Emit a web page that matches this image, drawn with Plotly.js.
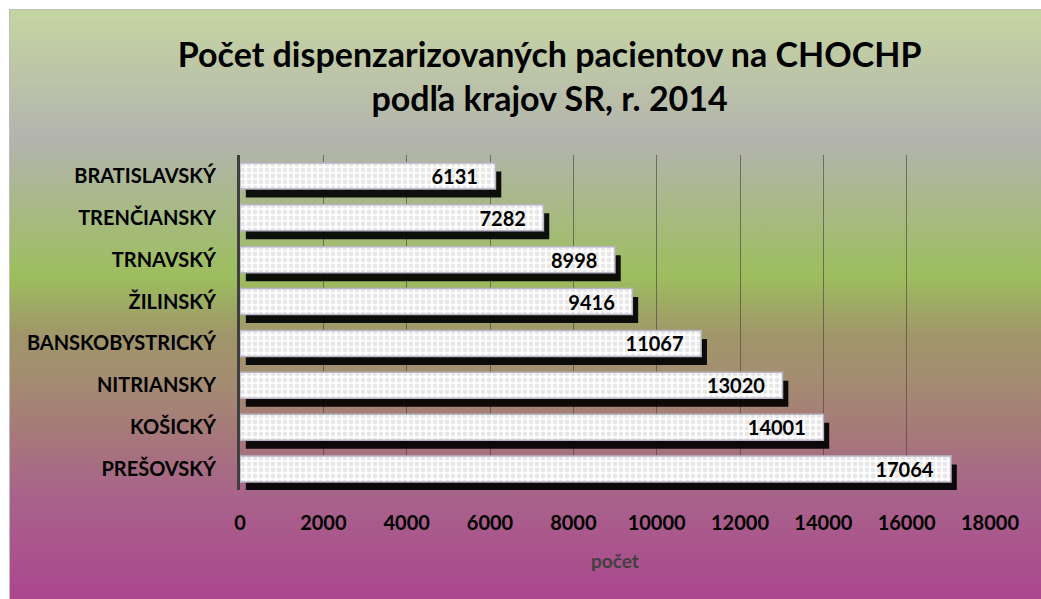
<!DOCTYPE html>
<html><head><meta charset="utf-8">
<script src="https://cdn.plot.ly/plotly-3.0.1.min.js"></script>
<style>
html,body{margin:0;padding:0;background:#fff;width:1041px;height:599px;overflow:hidden;}
#bg{position:absolute;left:9px;top:9px;width:1032px;height:590px;border-left:1px solid #bdbdbd;border-top:1px solid #bdbdbd;
background:linear-gradient(to bottom,#c5d5a1 0%,#b3b4ae 22%,#9dbe5e 45%,#a0966a 55%,#a48c71 63%,#a6787a 72%,#a8648a 82%,#ab468e 100%);}
#chart{position:absolute;left:0;top:0;width:1041px;height:599px;}
</style></head>
<body><div id="bg"></div><div id="chart"></div>
<script>
const regions = ["BRATISLAVSKÝ","TRENČIANSKY","TRNAVSKÝ","ŽILINSKÝ","BANSKOBYSTRICKÝ","NITRIANSKY","KOŠICKÝ","PREŠOVSKÝ"];
const patients = [6131,7282,8998,9416,11067,13020,14001,17064];
const xTickVals = [0,2000,4000,6000,8000,10000,12000,14000,16000,18000];
const xTickText = ["0","2000","4000","6000","8000","10000","12000","14000","16000","18000"];
const titleText = "Počet dispenzarizovaných pacientov na CHOCHP<br>podľa krajov SR, r. 2014";
const xTitle = "počet";

const FONT = "Lato, 'Open Sans', sans-serif";
const pad = "\u00a0\u00a0\u00a0";

const shadow = {
  type:'bar', orientation:'h', x:patients, y:regions, xaxis:'x', yaxis:'y',
  marker:{color:'rgba(0,0,0,0.92)', line:{width:0}}, hoverinfo:'skip', showlegend:false
};
const bars = {
  type:'bar', orientation:'h', x:patients, y:regions, xaxis:'x2', yaxis:'y2',
  marker:{color:'#ffffff', line:{color:'#b9b3c6', width:1.5},
    pattern:{shape:'.', fillmode:'overlay', bgcolor:'#ffffff', fgcolor:'#cfcfcf', size:6, solidity:0.5}},
  text:patients.map(v=>String(v)+pad), textposition:'inside', insidetextanchor:'end',
  textfont:{family:FONT, size:20, color:'#000', weight:700}, constraintext:'none',
  hoverinfo:'skip', showlegend:false, cliponaxis:false
};

const n = regions.length;
const shiftY = 8.5/41.9;
const layout = {
  width:1041, height:599,
  paper_bgcolor:'rgba(0,0,0,0)', plot_bgcolor:'rgba(0,0,0,0)',
  margin:{l:240, r:51, t:155, b:109},
  bargap:0.38,
  showlegend:false,
  title:{text:titleText, font:{family:FONT, size:34, color:'#000', weight:700},
    x:0.528, xanchor:'center', y:1-67/599, yanchor:'top', yref:'container'},
  xaxis:{range:[-140, 18000-140], visible:false, fixedrange:true},
  yaxis:{type:'category', categoryarray:regions, range:[n-0.5-shiftY, -0.5-shiftY], visible:false, fixedrange:true},
  xaxis2:{overlaying:'x', anchor:'y2', range:[0,18000], tickvals:xTickVals, ticktext:xTickText, ticks:'', showgrid:true,
    gridcolor:'rgba(70,60,60,0.6)', gridwidth:1, zeroline:false, showline:false,
    tickfont:{family:FONT, size:20, color:'#000', weight:700}, ticklabelstandoff:19,
    title:{text:xTitle, font:{family:FONT, size:19, color:'#404040', weight:700}, standoff:21},
    automargin:false, fixedrange:true},
  yaxis2:{overlaying:'y', anchor:'x2', type:'category', categoryarray:regions, range:[n-0.5, -0.5],
    ticks:'', showgrid:false, showline:true, linecolor:'#3f3f3f', linewidth:3, zeroline:false,
    tickfont:{family:FONT, size:20, color:'#000', weight:700}, ticklabelstandoff:17,
    automargin:false, fixedrange:true}
};
Plotly.newPlot('chart', [shadow, bars], layout, {staticPlot:true, displayModeBar:false});
</script>
</body></html>
